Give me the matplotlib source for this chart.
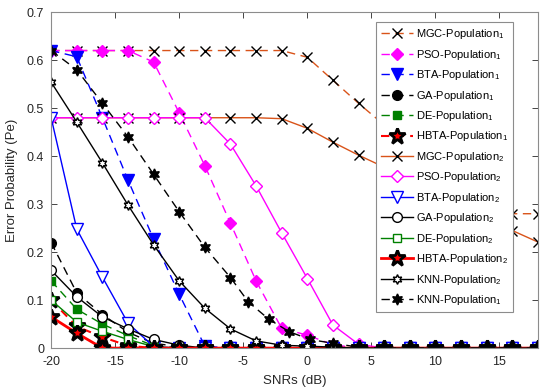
import numpy as np
import matplotlib
matplotlib.use("Agg")
import matplotlib.pyplot as plt

plt.rcParams["font.family"] = ["Liberation Sans", "DejaVu Sans"]
plt.rcParams["mathtext.fontset"] = "custom"
plt.rcParams["mathtext.rm"] = "Liberation Sans"
plt.rcParams["mathtext.it"] = "Liberation Sans:italic"
plt.rcParams["axes.unicode_minus"] = False

# SNR grid (dB)
snr = [-20, -18, -16, -14, -12, -10, -8, -6, -4, -2, 0, 2, 4, 6, 8, 10, 12, 14, 16, 18]
snr_knn1 = [-20, -18, -16, -14, -12, -10, -8, -6, -4.6, -3, -1.4, 0.2, 2, 4, 6, 8, 10, 12, 14, 16, 18]

mgc1 = [0.62, 0.62, 0.62, 0.62, 0.62, 0.62, 0.62, 0.62, 0.62, 0.62,
        0.606, 0.558, 0.51, 0.465, 0.42, 0.375, 0.33, 0.295, 0.28, 0.28]
pso1 = [0.62, 0.62, 0.62, 0.62, 0.596, 0.49, 0.38, 0.26, 0.14, 0.041,
        0.027, 0.007, 0, 0, 0, 0, 0, 0, 0, 0]
bta1 = [0.62, 0.607, 0.48, 0.35, 0.227, 0.112, 0.004, 0, 0, 0,
        0, 0, 0, 0, 0, 0, 0, 0, 0, 0]
ga1 = [0.22, 0.115, 0.07, 0.033, 0.01, 0.003, 0, 0, 0, 0,
       0, 0, 0, 0, 0, 0, 0, 0, 0, 0]
de1 = [0.14, 0.081, 0.05, 0.026, 0.005, 0, 0, 0, 0, 0,
       0, 0, 0, 0, 0, 0, 0, 0, 0, 0]
hbta1 = [0.1, 0.045, 0.023, 0.005, 0, 0, 0, 0, 0, 0,
         0, 0, 0, 0, 0, 0, 0, 0, 0, 0]
mgc2 = [0.48, 0.48, 0.48, 0.48, 0.48, 0.48, 0.48, 0.48, 0.48, 0.478,
        0.458, 0.429, 0.402, 0.377, 0.352, 0.325, 0.298, 0.27, 0.245, 0.221]
pso2 = [0.48, 0.48, 0.48, 0.48, 0.48, 0.48, 0.48, 0.425, 0.338, 0.24,
        0.145, 0.048, 0.008, 0, 0, 0, 0, 0, 0, 0]
bta2 = [0.48, 0.248, 0.148, 0.052, 0.003, 0, 0, 0, 0, 0,
        0, 0, 0, 0, 0, 0, 0, 0, 0, 0]
ga2 = [0.162, 0.107, 0.065, 0.04, 0.018, 0.006, 0, 0, 0, 0,
       0, 0, 0, 0, 0, 0, 0, 0, 0, 0]
de2 = [0.1, 0.054, 0.035, 0.018, 0.003, 0, 0, 0, 0, 0,
       0, 0, 0, 0, 0, 0, 0, 0, 0, 0]
hbta2 = [0.065, 0.031, 0, 0, 0, 0, 0, 0, 0, 0,
         0, 0, 0, 0, 0, 0, 0, 0, 0, 0]
knn2 = [0.554, 0.471, 0.386, 0.298, 0.215, 0.14, 0.083, 0.04, 0.015, 0.006,
        0.004, 0.002, 0, 0, 0, 0, 0, 0, 0, 0]
knn1 = [0.62, 0.58, 0.51, 0.44, 0.362, 0.284, 0.21, 0.147, 0.096, 0.06, 0.034,
        0.018, 0.01, 0.002, 0, 0, 0, 0, 0, 0, 0]

orange = "#D95319"
green = "#008000"
dash = (6, 4)
hexagram = (6, 1, 0)

fig = plt.figure(figsize=(5.5, 3.92), dpi=100)
ax = fig.add_axes([0.093, 0.112, 0.885, 0.857])

# population 1 (dashed, filled markers)
ax.plot(snr, mgc1, "--", color=orange, lw=1, dashes=dash, marker="x", ms=7,
        mec="k", mew=1, label="MGC-Population$_1$")
ax.plot(snr, pso1, "--", color="#FF00FF", lw=1, dashes=dash, marker="D", ms=6,
        mfc="#FF00FF", mec="#FF00FF", label="PSO-Population$_1$")
ax.plot(snr, bta1, "--", color="#0000FF", lw=1, dashes=dash, marker="v", ms=8,
        mfc="#0000FF", mec="#0000FF", label="BTA-Population$_1$")
ax.plot(snr, ga1, "--", color="k", lw=1, dashes=dash, marker="o", ms=7,
        mfc="k", label="GA-Population$_1$")
ax.plot(snr, de1, "--", color=green, lw=1, dashes=dash, marker="s", ms=6,
        mfc=green, mec=green, label="DE-Population$_1$")
ax.plot(snr, hbta1, "--", color="red", lw=1.5, dashes=(4, 3), marker="*", ms=12,
        mfc="red", mec="k", mew=2, label="HBTA-Population$_1$")

# population 2 (solid, open markers)
ax.plot(snr, mgc2, "-", color=orange, lw=1, marker="x", ms=7,
        mec="k", mew=1, label="MGC-Population$_2$")
ax.plot(snr, pso2, "-", color="#FF00FF", lw=1, marker="D", ms=6,
        mfc="white", mec="#FF00FF", label="PSO-Population$_2$")
ax.plot(snr, bta2, "-", color="#0000FF", lw=1, marker="v", ms=8,
        mfc="white", mec="#0000FF", label="BTA-Population$_2$")
ax.plot(snr, ga2, "-", color="k", lw=1, marker="o", ms=7,
        mfc="white", mec="k", label="GA-Population$_2$")
ax.plot(snr, de2, "-", color=green, lw=1, marker="s", ms=6,
        mfc="white", mec=green, label="DE-Population$_2$")
ax.plot(snr, hbta2, "-", color="red", lw=2, marker="*", ms=12,
        mfc="red", mec="k", mew=2, label="HBTA-Population$_2$")

ax.plot(snr, knn2, "-", color="k", lw=1, marker=hexagram, ms=7,
        mfc="white", mec="k", label="KNN-Population$_2$")
ax.plot(snr_knn1, knn1, "--", color="k", lw=1, dashes=dash, marker=hexagram, ms=8,
        mfc="k", mec="k", label="KNN-Population$_1$")

ax.set_xlim(-20, 18)
ax.set_ylim(0, 0.7)
ax.set_xticks([-20, -15, -10, -5, 0, 5, 10, 15])
ax.set_yticks(np.arange(0, 0.71, 0.1))
ax.set_yticklabels(["0", "0.1", "0.2", "0.3", "0.4", "0.5", "0.6", "0.7"])
ax.tick_params(direction="in", top=True, right=True, labelsize=9,
               colors="#262626", length=4, width=0.6)
ax.tick_params(axis="x", pad=6)
ax.tick_params(axis="y", pad=5)
for s in ax.spines.values():
    s.set_color("#8c8c8c")
    s.set_linewidth(0.8)
ax.set_xlabel("SNRs (dB)", fontsize=9.5, color="#262626", labelpad=5)
ax.set_ylabel("Error Probability (Pe)", fontsize=9.5, color="#262626", labelpad=6)

leg = ax.legend(loc="upper right", bbox_to_anchor=(0.949, 0.970), borderaxespad=0,
                fontsize=8, handlelength=2.9, labelspacing=0.58, fancybox=False,
                framealpha=1, edgecolor="#8c8c8c", borderpad=0.45, handletextpad=0.25)
leg.get_frame().set_linewidth(0.8)

fig.savefig("out.png", dpi=100)
